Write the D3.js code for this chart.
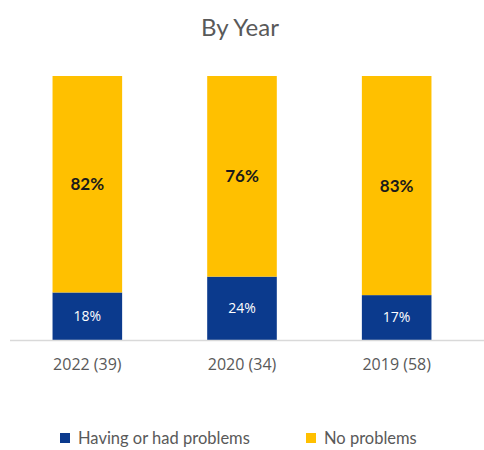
<!DOCTYPE html>
<html><head><meta charset="utf-8">
<script src="https://cdn.jsdelivr.net/npm/d3@7"></script>
<style>body{margin:0;background:#fff}svg{display:block}</style>
</head><body>
<svg id="c" width="484" height="450"></svg>
<script>
const categories = ["2022 (39)", "2020 (34)", "2019 (58)"];
const havingProblems = [18, 24, 17];
const noProblems = [82, 76, 83];
const seriesNames = ["Having or had problems", "No problems"];
const colors = ["#0B3A8D", "#FFC000"];

const svg = d3.select("#c");
const x = d3.scaleBand().domain(categories).range([10, 474]).paddingInner(0.55).paddingOuter(0.275);
const y = d3.scaleLinear().domain([0, 100]).range([340, 76]);

const rows = categories.map((c, i) => ({cat: c, having: havingProblems[i], no: noProblems[i]}));
const stack = d3.stack().keys(["having", "no"])(rows);

svg.append("text").attr("x", 240).attr("y", 36).attr("text-anchor", "middle")
  .attr("font-family", "Lato, 'Open Sans', sans-serif").attr("font-size", 24).attr("fill", "#595959").text("By Year");

stack.forEach((s, si) => {
  svg.append("g").selectAll("rect").data(s).join("rect")
    .attr("x", d => x(d.data.cat)).attr("width", x.bandwidth())
    .attr("y", d => y(d[1])).attr("height", d => y(d[0]) - y(d[1]))
    .attr("fill", colors[si]);
  svg.append("g").selectAll("text").data(s).join("text")
    .attr("x", d => x(d.data.cat) + x.bandwidth() / 2)
    .attr("y", d => (y(d[0]) + y(d[1])) / 2)
    .attr("dy", "0.35em").attr("text-anchor", "middle")
    .attr("font-family", si === 0 ? "'Open Sans', sans-serif" : "Lato, 'Open Sans', sans-serif")
    .attr("font-size", si === 0 ? 14 : 17)
    .attr("font-weight", si === 0 ? "normal" : "bold")
    .attr("fill", si === 0 ? "#ffffff" : "#1a1a1a")
    .text(d => (d[1] - d[0]) + "%");
});

const axis = svg.append("g").attr("transform", "translate(0,340)")
  .call(d3.axisBottom(x).tickSize(0).tickPadding(19));
axis.select(".domain").attr("d", "M10,0.5H484").attr("stroke", "#d9d9d9").attr("stroke-width", 1.5);
axis.selectAll("text").attr("font-family", "'Open Sans', sans-serif").attr("font-size", 16).attr("fill", "#595959");

const legend = svg.append("g");
const lx = [60, 306];
seriesNames.forEach((n, i) => {
  legend.append("rect").attr("x", lx[i]).attr("y", 433).attr("width", 10).attr("height", 10).attr("fill", colors[i]);
  legend.append("text").attr("x", lx[i] + 18).attr("y", 444)
    .attr("font-family", "Lato, 'Open Sans', sans-serif").attr("font-size", 16.5).attr("fill", "#595959").text(n);
});
</script>
</body></html>
